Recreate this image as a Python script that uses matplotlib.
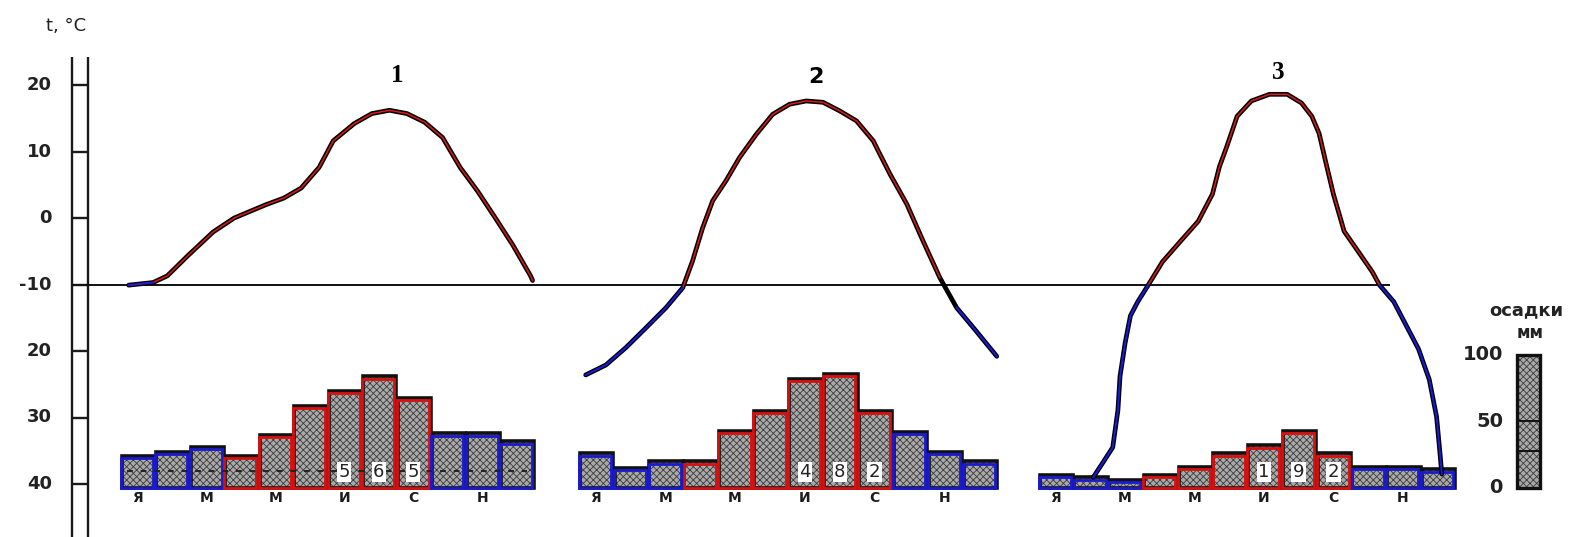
import numpy as np
import matplotlib
matplotlib.use('Agg')
import matplotlib.pyplot as plt
from matplotlib.patches import Rectangle

# --- data ----------------------------------------------------------------
month_letters = ['Я', '', 'М', '', 'М', '', 'И', '', 'С', '', 'Н', '']
temp_ticks = [20, 10, 0, -10, -20, -30, -40]
temp_tick_labels = ['20', '10', '0', '-10', '20', '30', '40']

# station 1: curve traced as (month position, deg C), 0 = January
st1_month = [-0.25, 0.46, 0.87, 1.48, 2.20, 2.81, 3.73, 4.25, 4.75, 5.27, 5.68,
             6.29, 6.80, 7.31, 7.82, 8.33, 8.85, 9.36, 9.87, 10.38, 10.89, 11.40, 11.46]
st1_temp = [-10.1, -9.7, -8.7, -5.6, -2.1, 0.0, 2.0, 3.0, 4.5, 7.6, 11.6,
            14.2, 15.7, 16.2, 15.7, 14.4, 12.1, 7.6, 4.0, 0.0, -4.1, -8.7, -9.4]
st1_precip = [24, 27, 31, 24, 40, 62, 73, 84, 68, 41, 41, 35]

# station 2
st2_month = [-0.28, 0.30, 0.87, 1.45, 2.02, 2.50, 2.78, 3.07, 3.36, 3.74, 4.13,
             4.61, 5.08, 5.56, 6.04, 6.52, 7.00, 7.48, 7.96, 8.15, 8.44, 8.92,
             9.39, 9.87, 10.35, 10.83, 11.22, 11.50]
st2_temp = [-23.6, -22.1, -19.5, -16.5, -13.5, -10.5, -6.5, -1.5, 2.6, 5.6, 9.1,
            12.6, 15.6, 17.1, 17.6, 17.4, 16.1, 14.6, 11.6, 9.6, 6.6, 2.1,
            -3.5, -9.0, -13.5, -16.5, -19.0, -20.8]
st2_precip = [26, 15, 20, 20, 43, 58, 82, 86, 58, 42, 27, 20]

# station 3
st3_month = [1.09, 1.34, 1.65, 1.80, 1.86, 2.01, 2.16, 2.37, 2.67, 3.08, 3.60,
             4.11, 4.52, 4.72, 4.93, 5.23, 5.64, 6.16, 6.67, 7.08, 7.38, 7.59,
             7.79, 8.00, 8.31, 8.71, 9.12, 9.33, 9.74, 10.05, 10.45, 10.76,
             10.97, 11.07, 11.12]
st3_temp = [-39.0, -37.0, -34.5, -28.9, -23.8, -18.7, -14.7, -12.6, -10.1, -6.6, -3.5,
            -0.5, 3.6, 7.7, 10.7, 15.3, 17.6, 18.6, 18.6, 17.3, 15.3, 12.7,
            8.2, 3.6, -2.0, -5.0, -8.1, -10.1, -12.6, -15.7, -19.7, -24.3,
            -29.9, -35.5, -38.5]
st3_precip = [10, 8, 6, 10, 16, 26, 32, 43, 26, 16, 16, 14]

station_titles = ['1', '2', '3']
annual_totals = ['565', '482', '192']
warm_months = [3, 4, 5, 6, 7, 8]

# --- layout -------------------------------------------------------------
W, H = 1579, 537
BASE = -40.6          # precipitation zero line, deg C units
MM_PER_DEG = 5.0      # 100 mm = 20 deg on the drawing
panel_left = [120, 578, 1038]
panel_w = [34.5, 34.9, 34.75]
title_pos = [(7.53, 21.5), (6.33, 21.2), (6.41, 21.9)]
title_font = ['Liberation Serif', 'DejaVu Sans', 'Liberation Serif']
title_size = [18, 16, 18]

BAR_FACE = '#a9a9a9'
plt.rcParams['hatch.linewidth'] = 0.6
plt.rcParams['hatch.color'] = '#3c3c3c'


def draw_station(ax, i, tm, tt, precip):
    left, w = panel_left[i], panel_w[i]
    xs = left + (np.arange(12) + 0.5) * w
    hh = np.array(precip) / MM_PER_DEG
    cols = ['#d81010' if k in warm_months else '#1a1ad0' for k in range(12)]

    ax.bar(xs + 1, hh, width=w * 0.96, bottom=BASE, color=BAR_FACE,
           hatch='xxxxx', edgecolor='#3c3c3c', lw=0, zorder=2)
    ax.bar(xs + 1, hh, width=w * 0.96, bottom=BASE, fill=False,
           edgecolor='#111111', lw=2.6, zorder=3)
    ax.bar(xs - 0.5, hh - 0.35, width=w * 0.92, bottom=BASE, fill=False,
           edgecolor=cols, lw=2.0, zorder=4)

    # dashed line seen inside the bars of the first diagram
    if i == 0:
        ax.hlines(-38.0, xs[0] - w * 0.3, xs[-1] + w * 0.3, colors='#222222',
                  lw=1.4, linestyles=(0, (3, 4)), zorder=4)

    for k, lab in enumerate(month_letters):
        if lab:
            ax.text(xs[k], BASE - 0.5, lab, ha='center', va='top', fontsize=10,
                    fontweight='heavy', family='DejaVu Sans', color='#1c1c1c', zorder=5)
    for j, ch in enumerate(annual_totals[i]):
        ax.text(xs[6 + j], -38.2, ch, ha='center', va='center', fontsize=13,
                color='#222222', zorder=6,
                bbox=dict(facecolor='white', edgecolor='none', pad=1.0))

    x = left + (np.array(tm) + 0.5) * w
    t = np.array(tt)
    ax.plot(x, t, color='black', lw=3.4, solid_capstyle='round',
            solid_joinstyle='round', zorder=7)
    red = np.ma.masked_where(t < -10.6, t)
    blue = np.ma.masked_where(t > -9.4, t)
    ax.plot(x, red, color='#e01818', lw=1.1, solid_joinstyle='round', zorder=8)
    ax.plot(x, blue, color='#1a1ae0', lw=1.4, solid_joinstyle='round', zorder=8)

    px, py = title_pos[i]
    ax.text(left + (px + 0.5) * w, py, station_titles[i], ha='center', va='center',
            fontsize=title_size[i], fontweight='bold', family=title_font[i], zorder=9)


def main():
    fig = plt.figure(figsize=(W / 100, H / 100), dpi=100)
    ax = fig.add_axes([0, 0, 1, 1])
    ax.set_xlim(0, W)
    ax.set_ylim(20 - (H - 85) / 6.65, 20 + 85 / 6.65)
    ax.axis('off')

    # temperature scale on the left
    top_t = 24.2
    ax.vlines([72, 88], ax.get_ylim()[0], top_t, colors='#1a1a1a', lw=1.7)
    ax.hlines(temp_ticks, 72, 88, colors='#1a1a1a', lw=1.7)
    for v, lab in zip(temp_ticks, temp_tick_labels):
        ax.text(52, v, lab, ha='right', va='center', fontsize=13,
                fontweight='bold', family='DejaVu Sans', color='#222222')
    ax.text(66, 28.8, 't, °C', ha='center', va='center', fontsize=13,
            family='DejaVu Sans', color='#222222')

    # -10 reference line
    ax.hlines(-10, 72, 1390, colors='#111111', lw=1.4, zorder=6)

    draw_station(ax, 0, st1_month, st1_temp, st1_precip)
    draw_station(ax, 1, st2_month, st2_temp, st2_precip)
    draw_station(ax, 2, st3_month, st3_temp, st3_precip)

    # precipitation key
    kx, kw = 1517, 23
    ax.add_patch(Rectangle((kx, BASE), kw, 100 / MM_PER_DEG, facecolor=BAR_FACE,
                           hatch='xxxxx', edgecolor='#3c3c3c', lw=0, zorder=2))
    ax.add_patch(Rectangle((kx, BASE), kw, 100 / MM_PER_DEG, fill=False,
                           edgecolor='#111111', lw=2.4, zorder=3))
    ax.hlines([BASE + 50 / MM_PER_DEG, BASE + 28 / MM_PER_DEG], kx, kx + kw,
              colors='#111111', lw=1.4, zorder=3)
    for mm in [100, 50, 0]:
        ax.text(1503, BASE + mm / MM_PER_DEG, str(mm), ha='right', va='center',
                fontsize=14, fontweight='bold', family='DejaVu Sans', color='#222222')
    ax.text(1526, -13.9, 'осадки', ha='center', va='center', fontsize=13,
            fontweight='bold', family='DejaVu Sans', color='#222222')
    ax.text(1530, -17.3, 'мм', ha='center', va='center', fontsize=12,
            fontweight='bold', family='DejaVu Sans', color='#222222')

    fig.savefig('out.png', dpi=100)


if __name__ == "__main__":
    main()
